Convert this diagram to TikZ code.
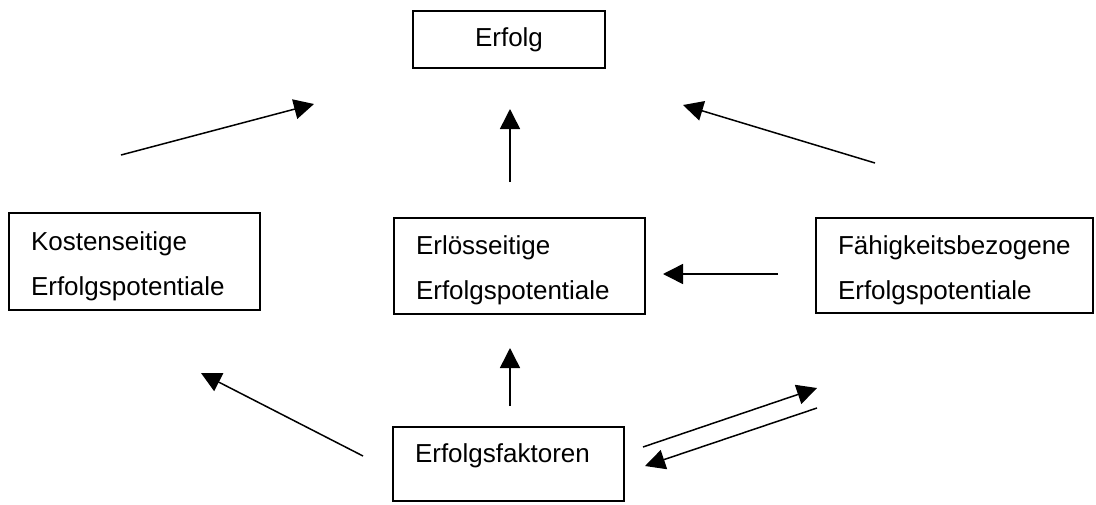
\documentclass[tikz,border=0pt]{standalone}
\usepackage{fontspec}
\setmainfont{Liberation Sans}
\usetikzlibrary{arrows.meta}
\begin{document}
\begin{tikzpicture}[
    x=1pt, y=-1pt,
    box/.style={draw, line width=1.5pt, rectangle, inner xsep=22pt, inner ysep=0pt,
                align=left, font=\fontsize{26}{45}\selectfont},
    twoline/.style={text height=28pt},
    link/.style={line width=1.5pt, -{Triangle[length=20pt, width=20pt]}}
]
\useasboundingbox (0,0) rectangle (1096,504);

\node[box, align=center, minimum width=192pt, minimum height=57pt] (erfolg) at (509,39.5) {Erfolg};
\node[box, twoline, text width=207pt, minimum height=97pt] (kosten) at (134.5,261.5) {Kostenseitige\\Erfolgspotentiale};
\node[box, twoline, text width=207pt, minimum height=96pt] (erloes) at (519.5,266) {Erlösseitige\\Erfolgspotentiale};
\node[box, twoline, text width=233pt, minimum height=95pt] (faehig) at (954.5,265.5) {Fähigkeitsbezogene\\Erfolgspotentiale};
\node[box, text width=187pt, minimum height=74pt, text depth=21pt] (faktoren) at (508.5,464) {Erfolgsfaktoren};

\coordinate (s1) at (121,155);
\coordinate (t1) at (314,104);
\coordinate (s2) at (510,182);
\coordinate (t2) at (510,109);
\coordinate (s3) at (875,163);
\coordinate (t3) at (683,105);
\coordinate (s4) at (778,274);
\coordinate (t4) at (663,274);
\coordinate (s5) at (510,406);
\coordinate (t5) at (510,348);
\coordinate (s6) at (363,456);
\coordinate (t6) at (201,373);
\coordinate (s7) at (643,447);
\coordinate (t7) at (817,388);
\coordinate (s8) at (817,408);
\coordinate (t8) at (645,466);

\draw[link] (s1) -- (t1);
\draw[link] (s2) -- (t2);
\draw[link] (s3) -- (t3);
\draw[link] (s4) -- (t4);
\draw[link] (s5) -- (t5);
\draw[link] (s6) -- (t6);
\draw[link] (s7) -- (t7);
\draw[link] (s8) -- (t8);

\end{tikzpicture}
\end{document}
